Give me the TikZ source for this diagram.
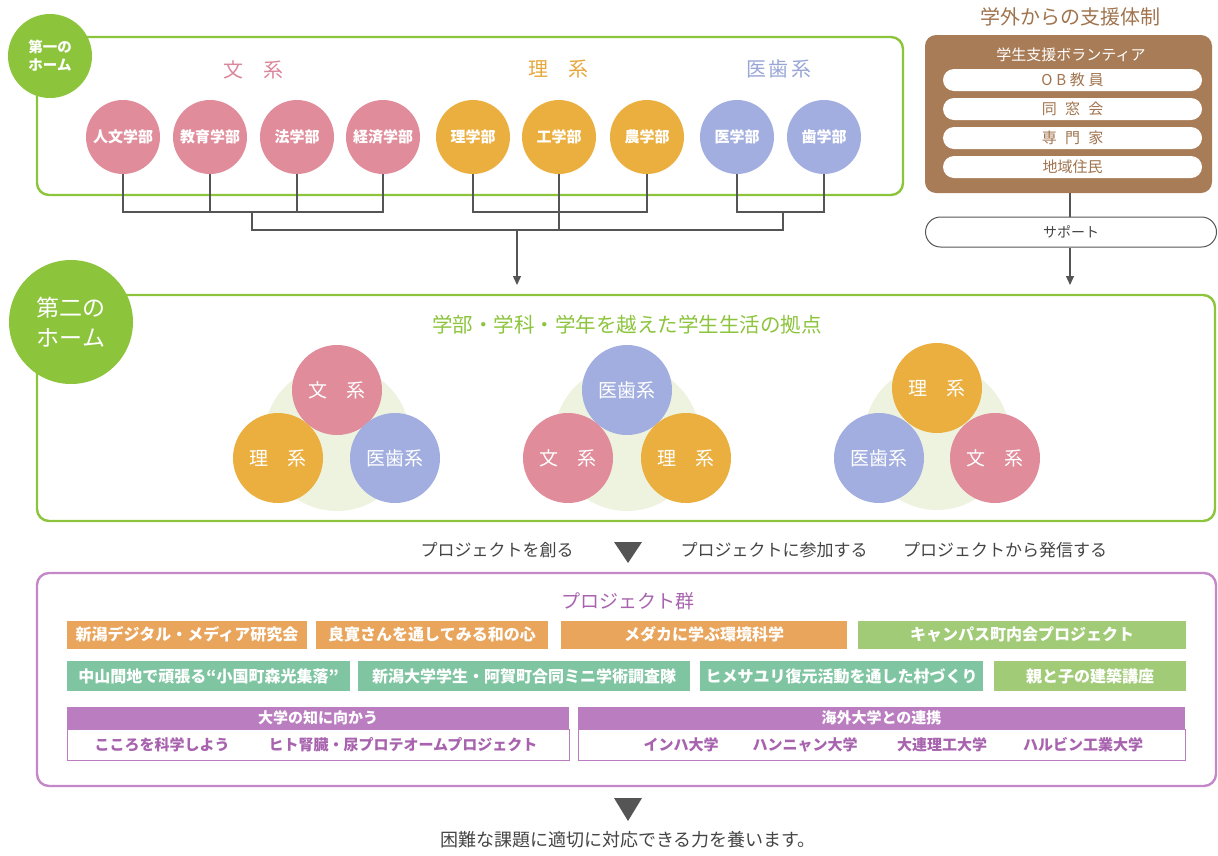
\documentclass[tikz,border=0pt]{standalone}
\usepackage{fontspec}
\setmainfont{Noto Sans CJK JP}
\usetikzlibrary{arrows.meta}
\definecolor{hgreen}{HTML}{8CC43C}
\definecolor{pinkc}{HTML}{E08C9B}
\definecolor{orangec}{HTML}{EBAF3F}
\definecolor{bluec}{HTML}{A2AEE0}
\definecolor{pinkt}{HTML}{D9879A}
\definecolor{oranget}{HTML}{E6A83C}
\definecolor{bluet}{HTML}{99A6D6}
\definecolor{brownc}{HTML}{A87C56}
\definecolor{brownt}{HTML}{A0744E}
\definecolor{linegray}{HTML}{555555}
\definecolor{txtgray}{HTML}{444444}
\definecolor{palegreen}{HTML}{EEF3E0}
\definecolor{purplef}{HTML}{C488C8}
\definecolor{purpleh}{HTML}{B97DC0}
\definecolor{purplet}{HTML}{A863AE}
\definecolor{projor}{HTML}{E9A55C}
\definecolor{projteal}{HTML}{7FC5A2}
\definecolor{projgr}{HTML}{A2CB78}
\newcommand{\fsz}[1]{\fontsize{#1}{#1}\selectfont}
\tikzset{
  frame/.style={draw, line width=2.4pt, rounded corners=12pt, inner sep=0pt},
  homecirc/.style={circle, fill=hgreen, text=white, align=center, inner sep=0pt},
  dept/.style={circle, minimum size=74pt, inner sep=0pt, text=white, font=\fsz{15}\bfseries},
  triad/.style={circle, minimum size=90pt, inner sep=0pt, text=white, font=\fsz{19}},
  pale/.style={circle, fill=palegreen, minimum size=146pt, inner sep=0pt},
  conn/.style={draw=linegray, line width=1.3pt},
  arr/.style={conn, -{Triangle[length=9pt,width=8pt]}},
  pill/.style={rounded corners=11pt, fill=white, minimum width=259pt, minimum height=22pt, inner sep=0pt, text=brownt, font=\fsz{15}},
  proj/.style={minimum height=28pt, inner sep=0pt, text=white, font=\fsz{16}\bfseries},
  projhead/.style={fill=purpleh, minimum height=22pt, inner sep=0pt, text=white, font=\fsz{15}\bfseries},
  projbody/.style={draw=purpleh, line width=1pt, fill=white, minimum height=31pt, inner sep=0pt},
  bodytxt/.style={text=purplet, font=\fsz{15}\bfseries, inner sep=0pt},
  steptxt/.style={text=txtgray, font=\fsz{17}, inner sep=0pt},
  downtri/.style={fill=linegray}
}
\begin{document}
\begin{tikzpicture}[x=1pt,y=-1pt]
\useasboundingbox (0,0) rectangle (1218,855);

% ---------- first home ----------
\node[frame, draw=hgreen, minimum width=866pt, minimum height=158pt] (box1) at (470,116) {};
\node[homecirc, minimum size=84pt, font=\fontsize{14.5}{18}\selectfont\bfseries] (h1) at (50,56) {第一の\\ホーム};

\node[text=pinkt, font=\fsz{20}] (lb1) at (253,70) {文　系};
\node[text=oranget, font=\fsz{20}] (lb2) at (558,69) {理　系};
\node[text=bluet, font=\fsz{20}\addfontfeatures{LetterSpace=12}] (lb3) at (779,69) {医歯系};

\node[dept, fill=pinkc] (d1) at (123,137) {人文学部};
\node[dept, fill=pinkc] (d2) at (210,137) {教育学部};
\node[dept, fill=pinkc] (d3) at (297,137) {法学部};
\node[dept, fill=pinkc] (d4) at (383,137) {経済学部};
\node[dept, fill=orangec] (d5) at (473,137) {理学部};
\node[dept, fill=orangec] (d6) at (559,137) {工学部};
\node[dept, fill=orangec] (d7) at (647,137) {農学部};
\node[dept, fill=bluec] (d8) at (737,137) {医学部};
\node[dept, fill=bluec] (d9) at (824,137) {歯学部};

\coordinate (j1) at (252,212);
\coordinate (j3) at (783,212);
\coordinate (m1) at (252,230);
\coordinate (m3) at (783,230);
\coordinate (ma) at (517,230);
\coordinate (ta) at (517,285);

\draw[conn] (d1.south) -- (d1.south |- j1) -- (d4.south |- j1) -- (d4.south);
\draw[conn] (d2.south) -- (d2.south |- j1);
\draw[conn] (d3.south) -- (d3.south |- j1);
\draw[conn] (d5.south) -- (d5.south |- j1) -- (d7.south |- j1) -- (d7.south);
\draw[conn] (d6.south) -- (d6.south |- m1);
\draw[conn] (d8.south) -- (d8.south |- j3) -- (d9.south |- j3) -- (d9.south);
\draw[conn] (j1) -- (m1) -- (m3) -- (j3);
\draw[arr] (ma) -- (ta);

% ---------- support ----------
\node[text=brownt, font=\fsz{20}] (st) at (1070,17) {学外からの支援体制};
\node[fill=brownc, rounded corners=11pt, minimum width=287pt, minimum height=158pt, inner sep=0pt] (vbox) at (1068.5,114) {};
\node[text=white, font=\fsz{15}] (vt) at (1071,55) {学生支援ボランティア};
\node[pill, font=\fsz{15}\addfontfeatures{LetterSpace=25}] (p1) at (1072.5,80) {OB教員};
\node[pill, font=\fsz{15}\addfontfeatures{LetterSpace=55}] (p2) at (1072.5,109) {同窓会};
\node[pill, font=\fsz{15}\addfontfeatures{LetterSpace=55}] (p3) at (1072.5,138) {専門家};
\node[pill] (p4) at (1072.5,167) {地域住民};
\node[draw=linegray, line width=1pt, fill=white, rounded corners=15pt, minimum width=291pt, minimum height=30pt, inner sep=0pt, text=txtgray, font=\fsz{14}] (sup) at (1071,232) {サポート};
\coordinate (tb) at (1070,285);
\draw[conn] (vbox.south -| tb) -- (sup.north -| tb);
\draw[arr] (sup.south -| tb) -- (tb);

% ---------- second home ----------
\node[frame, draw=hgreen, minimum width=1178pt, minimum height=226pt] (box2) at (626,408) {};
\node[homecirc, minimum size=124pt, font=\fontsize{23}{30}\selectfont] (h2) at (71,322) {第二の\\ホーム};
\node[text=hgreen, font=\fsz{20.5}] (t2) at (627,325) {学部・学科・学年を越えた学生生活の拠点};

\node[pale] (g1) at (337,438) {};
\node[triad, fill=pinkc] (a1) at (337,390) {文　系};
\node[triad, fill=orangec] (a2) at (278,458) {理　系};
\node[triad, fill=bluec] (a3) at (395,458) {医歯系};

\node[pale] (g2) at (627,438) {};
\node[triad, fill=bluec] (b1) at (627,390) {医歯系};
\node[triad, fill=pinkc] (b2) at (568,458) {文　系};
\node[triad, fill=orangec] (b3) at (686,458) {理　系};

\node[pale] (g3) at (937,437) {};
\node[triad, fill=orangec] (c1) at (937,388) {理　系};
\node[triad, fill=bluec] (c2) at (879,458) {医歯系};
\node[triad, fill=pinkc] (c3) at (995,458) {文　系};

% ---------- steps ----------
\node[steptxt] (s1) at (497,550) {プロジェクトを創る};
\fill[downtri] (614,542) -- (642,542) -- (628,563) -- cycle;
\node[steptxt] (s2) at (774,550) {プロジェクトに参加する};
\node[steptxt] (s3) at (1005,550) {プロジェクトから発信する};

% ---------- projects ----------
\node[frame, draw=purplef, minimum width=1179pt, minimum height=213pt] (box3) at (626.5,679.5) {};
\node[text=purplet, font=\fsz{19}] (t3) at (628,601) {プロジェクト群};

\node[proj, fill=projor, minimum width=240pt] (r1) at (187,634.5) {新潟デジタル・メディア研究会};
\node[proj, fill=projor, minimum width=232pt] (r2) at (432,634.5) {良寛さんを通してみる和の心};
\node[proj, fill=projor, minimum width=286pt] (r3) at (704,634.5) {メダカに学ぶ環境科学};
\node[proj, fill=projgr, minimum width=328pt] (r4) at (1022,634.5) {キャンパス町内会プロジェクト};

\node[proj, fill=projteal, minimum width=283pt, minimum height=30pt] (q1) at (208.5,676) {中山間地で頑張る“小国町森光集落”};
\node[proj, fill=projteal, minimum width=332pt, minimum height=30pt] (q2) at (524,676) {新潟大学学生・阿賀町合同ミニ学術調査隊};
\node[proj, fill=projteal, minimum width=283pt, minimum height=30pt] (q3) at (841.5,676) {ヒメサユリ復元活動を通した村づくり};
\node[proj, fill=projgr, minimum width=192pt, minimum height=30pt] (q4) at (1090,676) {親と子の建築講座};

\node[projbody, minimum width=502pt] (lb) at (318,744.5) {};
\node[projhead, minimum width=502pt] (lh) at (318,718) {大学の知に向かう};
\node[bodytxt] (l1) at (162,745) {こころを科学しよう};
\node[bodytxt] (l2) at (403,745) {ヒト腎臓・尿プロテオームプロジェクト};

\node[projbody, minimum width=607pt] (rb) at (881.5,744.5) {};
\node[projhead, minimum width=607pt] (rh) at (881.5,718) {海外大学との連携};
\node[bodytxt] (u1) at (681,745) {インハ大学};
\node[bodytxt] (u2) at (805,745) {ハンニャン大学};
\node[bodytxt] (u3) at (942,745) {大連理工大学};
\node[bodytxt] (u4) at (1083,745) {ハルビン工業大学};

% ---------- result ----------
\fill[downtri] (614,798) -- (642,798) -- (628,821) -- cycle;
\node[text=txtgray, font=\fsz{18}] (res) at (628,840) {困難な課題に適切に対応できる力を養います。};
\end{tikzpicture}
\end{document}
